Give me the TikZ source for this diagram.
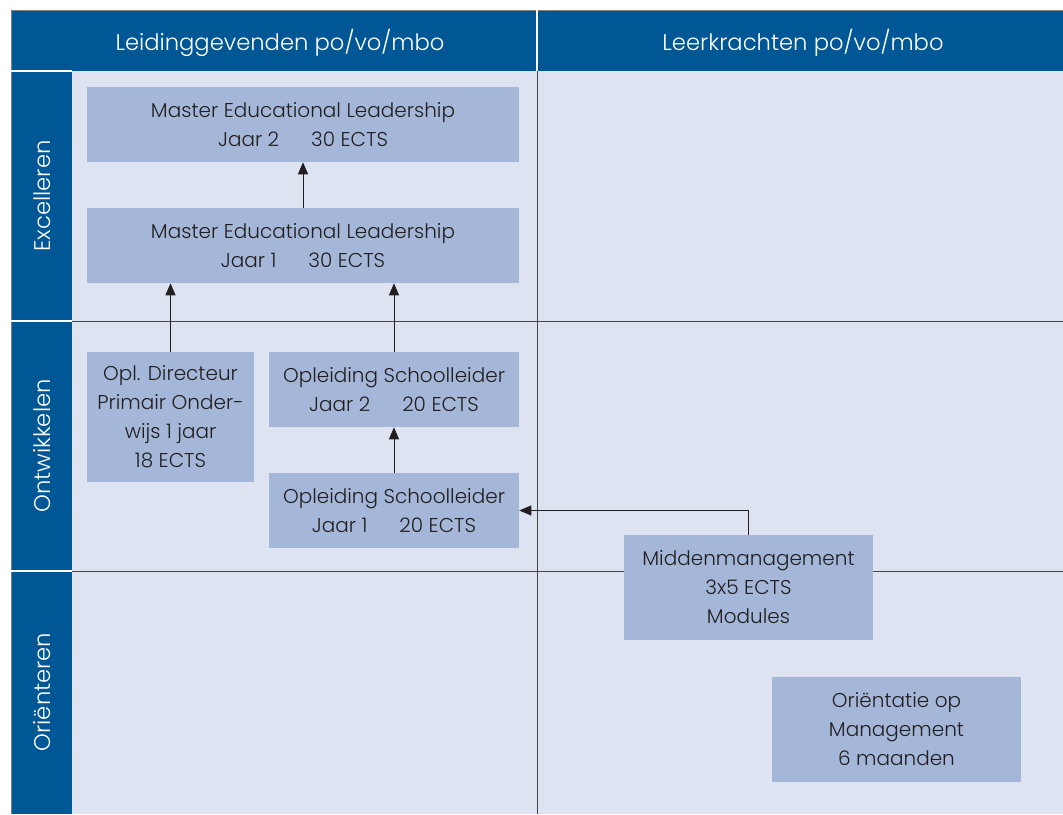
\documentclass[tikz,border=0pt]{standalone}
\usepackage{fontspec}
\setmainfont{Poppins Light}
\usetikzlibrary{arrows.meta}
\definecolor{darkblue}{RGB}{0,87,150}
\definecolor{lightbg}{RGB}{221,227,241}
\definecolor{boxblue}{RGB}{164,183,216}
\definecolor{txt}{RGB}{35,31,32}
\definecolor{rule}{RGB}{70,70,75}
\tikzset{
  course/.style={fill=boxblue, text=txt, align=center, inner sep=0pt,
    font=\fontsize{15}{21.75}\selectfont},
  hdr/.style={text=white, font=\fontsize{17}{20}\selectfont},
  rowlab/.style={text=white, rotate=90, font=\fontsize{17}{20}\selectfont},
  conn/.style={draw=txt, line width=0.75pt, -{Triangle[length=9pt,width=7.5pt]}},
  grid/.style={draw=rule, line width=0.75pt}
}
\begin{document}
\begin{tikzpicture}[x=0.75pt,y=-0.75pt]
\useasboundingbox (0,0) rectangle (1063,814);
\fill[white] (0,0) rectangle (1063,814);
% panel
\fill[lightbg] (11,10) rectangle (1063,814);
\fill[darkblue] (11,10) rectangle (1063,71);
\fill[darkblue] (11,10) rectangle (72,814);
\draw[gray, line width=0.75pt] (11,814) -- (11,10) -- (1063,10);
% white separators
\draw[white, line width=0.9pt] (537,10) -- (537,71);
\draw[white, line width=0.9pt] (11,71) -- (72,71);
\draw[white, line width=0.9pt] (11,321) -- (72,321);
\draw[white, line width=0.9pt] (11,571) -- (72,571);
% grid lines
\draw[grid] (537,71) -- (537,814);
\draw[grid] (72,321) -- (1063,321);
\draw[grid] (72,571) -- (1063,571);
% headers
\node[hdr] (h1) at (280,43) {Leidinggevenden po/vo/mbo};
\node[hdr] (h2) at (803,43) {Leerkrachten po/vo/mbo};
\node[rowlab] (r1) at (42,196) {Excelleren};
\node[rowlab] (r2) at (42,446) {Ontwikkelen};
\node[rowlab] (r3) at (42,692) {Oriënteren};
% boxes
\node[course, minimum width=324pt, minimum height=56.25pt] (mel2) at (303,124.5)
  {Master Educational Leadership\\Jaar 2\hspace{1.6em}30 ECTS};
\node[course, minimum width=324pt, minimum height=56.25pt] (mel1) at (303,245.5)
  {Master Educational Leadership\\Jaar 1\hspace{1.6em}30 ECTS};
\node[course, minimum width=125.25pt, minimum height=97.5pt] (opd) at (170.5,417)
  {Opl. Directeur\\Primair Onder-\\wijs 1 jaar\\18 ECTS};
\node[course, minimum width=187.5pt, minimum height=56.25pt] (os2) at (394,389.5)
  {Opleiding Schoolleider\\Jaar 2\hspace{1.6em}20 ECTS};
\node[course, minimum width=187.5pt, minimum height=56.25pt] (os1) at (394,510.5)
  {Opleiding Schoolleider\\Jaar 1\hspace{1.6em}20 ECTS};
\node[course, minimum width=186.75pt, minimum height=78.75pt] (mm) at (748.5,587.5)
  {Middenmanagement\\3x5 ECTS\\Modules};
\node[course, minimum width=186.75pt, minimum height=78.75pt] (or) at (896.5,729.5)
  {Oriëntatie op\\Management\\6 maanden};
% connectors
\draw[conn] (mel1.north) -- (mel2.south);
\draw[conn] (opd.north) -- (opd.north |- mel1.south);
\draw[conn] (os2.north) -- (os2.north |- mel1.south);
\draw[conn] (os1.north) -- (os2.south);
\draw[conn] (mm.north) |- (os1.east);
\end{tikzpicture}
\end{document}
